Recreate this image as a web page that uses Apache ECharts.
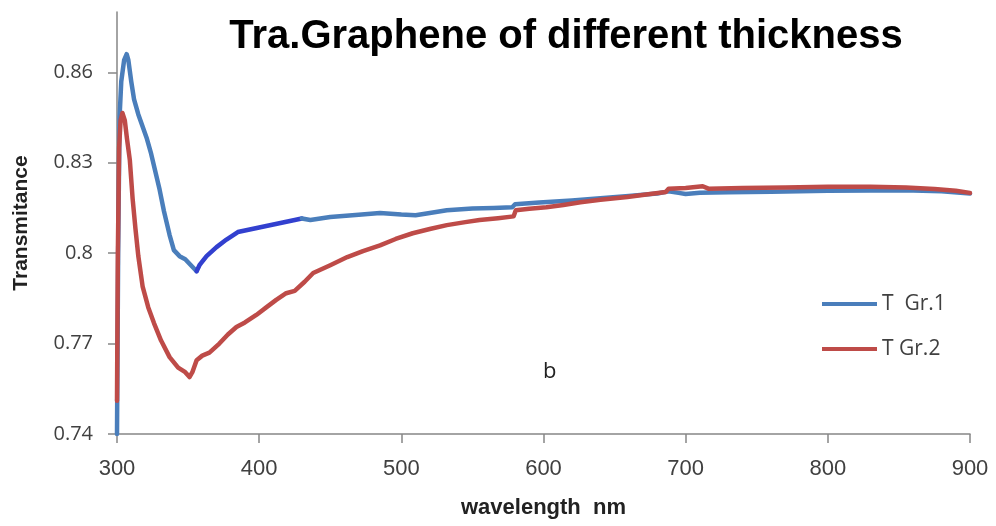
<!DOCTYPE html>
<html>
<head>
<meta charset="utf-8">
<script src="https://cdn.jsdelivr.net/npm/echarts@6/dist/echarts.min.js"></script>
<style>html,body{margin:0;padding:0;background:#fff}#chart{width:996px;height:526px}</style>
</head>
<body>
<div id="chart"></div>
<script>
const titleText = 'Tra.Graphene of different thickness';
const xAxisName = 'wavelength  nm';
const yAxisName = 'Transmitance';
const seriesNames = ['T  Gr.1', 'T Gr.2'];
const yTickValues = [0.74, 0.77, 0.80, 0.83, 0.86];
const xTickValues = [300, 400, 500, 600, 700, 800, 900];
const panelLabel = 'b';

// T Gr.1 : [wavelength nm, transmittance]
const gr1Start = [
  [300, 0.740], [300.8, 0.800], [301.8, 0.845], [303, 0.857], [305, 0.864], [306.8, 0.866],
  [308, 0.864], [310, 0.857], [312, 0.851], [315, 0.846], [318, 0.842], [321, 0.838],
  [324, 0.833], [327, 0.827], [330, 0.821], [333, 0.814], [337, 0.806], [340, 0.801],
  [344, 0.799], [348, 0.798], [352, 0.796], [356, 0.794]
];
const gr1Dark = [
  [356, 0.794], [358, 0.796], [363, 0.799], [370, 0.802], [377, 0.8045], [385, 0.807],
  [395, 0.808], [405, 0.809], [415, 0.810], [425, 0.811], [430, 0.8115]
];
const gr1End = [
  [430, 0.8115], [436, 0.811], [450, 0.812], [470, 0.8127], [485, 0.8133], [500, 0.8128],
  [510, 0.8126], [520, 0.8133], [532, 0.8142], [550, 0.8148], [565, 0.8150], [578, 0.8152],
  [580, 0.8162], [597, 0.8168], [620, 0.8175], [640, 0.8182], [660, 0.819], [680, 0.8198],
  [688, 0.8205], [695, 0.8200], [700, 0.8196], [710, 0.8200], [730, 0.8202], [760, 0.8204],
  [800, 0.8207], [830, 0.8208], [860, 0.8208], [880, 0.8205], [900, 0.8198]
];
// T Gr.2
const gr2Values = [
  [300, 0.751], [300.6, 0.800], [301.5, 0.835], [302.5, 0.844], [303.8, 0.8465], [305.5, 0.844],
  [307, 0.838], [309, 0.831], [311, 0.818], [313, 0.808], [315, 0.799], [318, 0.789],
  [322, 0.782], [326, 0.7768], [331, 0.771], [337, 0.7655], [343, 0.762], [348, 0.7605],
  [351, 0.7589], [353, 0.7605], [356, 0.7645], [360, 0.766], [365, 0.767], [372, 0.770],
  [378, 0.773], [384, 0.7755], [390, 0.777], [398, 0.7795], [405, 0.782], [412, 0.7845],
  [419, 0.7867], [425, 0.7875], [432, 0.7905], [438, 0.7934], [450, 0.796], [462, 0.7987],
  [473, 0.8007], [485, 0.8026], [496, 0.8047], [508, 0.8066], [520, 0.808], [532, 0.8093],
  [545, 0.8103], [555, 0.811], [568, 0.8116], [579, 0.8122], [580.5, 0.8142], [590, 0.8147],
  [602, 0.8152], [614, 0.816], [626, 0.8169], [640, 0.8177], [659, 0.8186], [675, 0.8196],
  [686, 0.8203], [688, 0.8214], [700, 0.8216], [712, 0.8222], [716, 0.8214], [740, 0.8216],
  [770, 0.8218], [800, 0.822], [830, 0.822], [855, 0.8218], [875, 0.8213], [890, 0.8207],
  [900, 0.8200]
];

const blue = '#4a7ebb';
const darkBlue = '#3240cf';
const red = '#be4b48';
const axisColor = '#868686';
const labelColor = '#404040';

const chart = echarts.init(document.getElementById('chart'));
const lineStyleBase = { width: 4.5, cap: 'round', join: 'round' };
chart.setOption({
  animation: false,
  backgroundColor: '#fff',
  title: {
    text: titleText,
    left: 561, top: 12, textAlign: 'center',
    textStyle: { fontFamily: "'Liberation Sans', Arial, sans-serif", fontWeight: 'bold', fontSize: 40, color: '#000' }
  },
  grid: { left: 117, right: 26, top: 12, bottom: 92 },
  legend: {
    data: seriesNames,
    orient: 'vertical',
    left: 817, top: 288,
    itemWidth: 55, itemHeight: 4, itemGap: 23,
    icon: 'rect',
    textStyle: { fontFamily: "'Open Sans', sans-serif", fontSize: 21, color: labelColor, lineHeight: 22 }
  },
  xAxis: {
    type: 'value', min: 300, max: 900, interval: 100,
    name: xAxisName, nameLocation: 'middle', nameGap: 63,
    nameTextStyle: { fontFamily: "'Liberation Sans', Arial, sans-serif", fontWeight: 'bold', fontSize: 22, color: '#222' },
    axisLine: { lineStyle: { color: axisColor, width: 1.5 } },
    axisTick: { length: 9, lineStyle: { color: axisColor, width: 1.5 }, customValues: xTickValues },
    axisLabel: { margin: 24, fontFamily: "'Liberation Sans', Arial, sans-serif", fontSize: 22, color: labelColor, customValues: xTickValues },
    splitLine: { show: false }
  },
  yAxis: {
    type: 'value', min: 0.74, max: 0.88,
    name: yAxisName, nameLocation: 'middle', nameGap: 85, nameRotate: 90,
    nameTextStyle: { fontFamily: "'Liberation Sans', Arial, sans-serif", fontWeight: 'bold', fontSize: 21, color: '#222' },
    axisLine: { show: true, lineStyle: { color: axisColor, width: 1.5 } },
    axisTick: { show: true, length: 9, lineStyle: { color: axisColor, width: 1.5 }, customValues: yTickValues },
    axisLabel: {
      margin: 24, fontFamily: "'Open Sans', sans-serif", fontSize: 20, color: labelColor,
      customValues: yTickValues,
      formatter: v => String(Math.round(v * 100) / 100)
    },
    splitLine: { show: false }
  },
  graphic: [{
    type: 'text', left: 543, top: 361,
    style: { text: panelLabel, fontFamily: "'Open Sans', sans-serif", fontSize: 22, fill: '#222' }
  }],
  series: [
    { name: seriesNames[0], type: 'line', data: gr1Start, showSymbol: false, color: blue, lineStyle: Object.assign({ color: blue }, lineStyleBase), z: 2 },
    { name: 'gr1dark', type: 'line', data: gr1Dark, showSymbol: false, color: darkBlue, lineStyle: Object.assign({ color: darkBlue }, lineStyleBase), z: 2 },
    { name: seriesNames[0], type: 'line', data: gr1End, showSymbol: false, color: blue, lineStyle: Object.assign({ color: blue }, lineStyleBase), z: 2 },
    { name: seriesNames[1], type: 'line', data: gr2Values, showSymbol: false, color: red, lineStyle: Object.assign({ color: red }, lineStyleBase), z: 3 }
  ]
});
</script>
</body>
</html>
